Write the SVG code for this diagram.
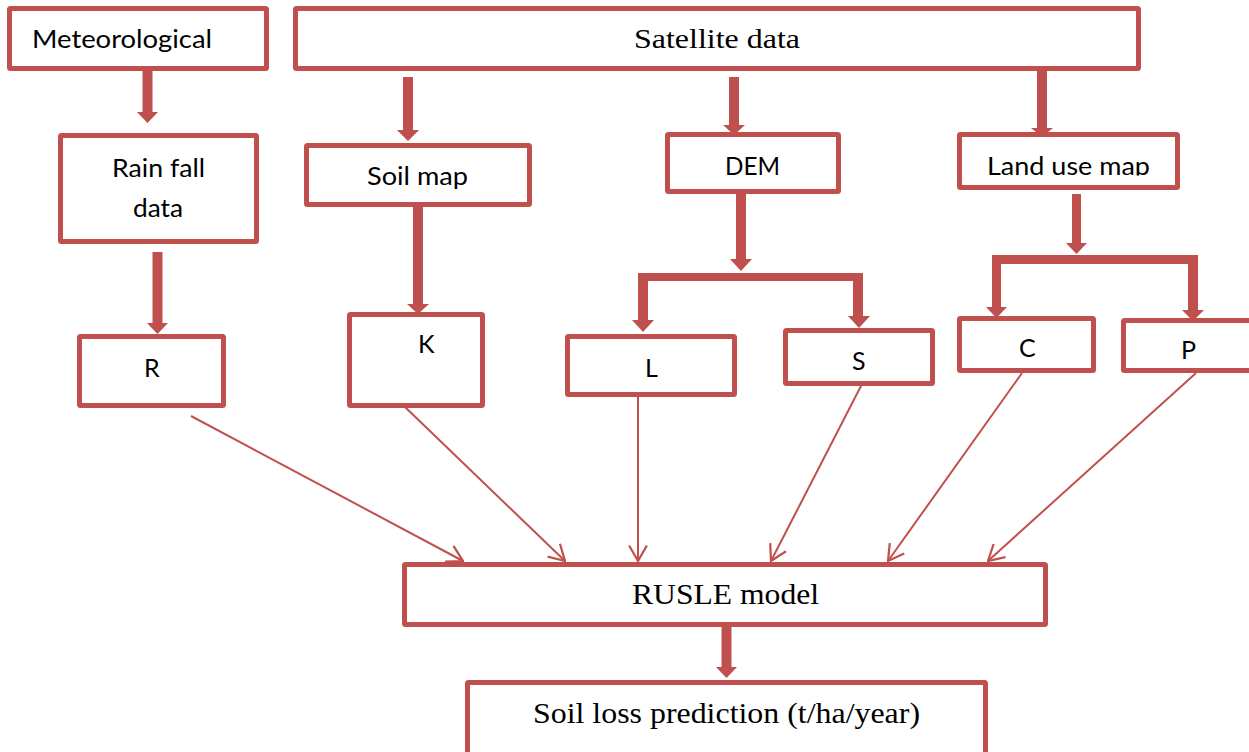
<svg xmlns="http://www.w3.org/2000/svg" width="1249" height="752" viewBox="0 0 1249 752">
<style>
.box{fill:#fff;stroke:#C0504D;stroke-width:5}
.thick{fill:#C0504D;stroke:none}
.thin{stroke:#C0504D;stroke-width:2;fill:none}
.sans{font-family:Lato,"Open Sans","Liberation Sans",sans-serif;font-size:25px;fill:#000}
.serif{font-family:"Liberation Serif","Times New Roman",serif;fill:#000}
</style>
<defs>
<marker id="open" markerUnits="userSpaceOnUse" markerWidth="18" markerHeight="20" viewBox="0 0 16 18" refX="15" refY="9" orient="auto">
<path d="M1,1 L15,9 L1,17" fill="none" stroke="#C0504D" stroke-width="2"/>
</marker>
<clipPath id="clipLand"><rect x="960" y="135" width="216" height="40.5"/></clipPath>
</defs>
<rect x="0" y="0" width="1249" height="752" fill="#fff"/>

<g id="connectors">
<!-- thin lines to RUSLE -->
<line class="thin" x1="191" y1="416" x2="463" y2="561" marker-end="url(#open)"/>
<line class="thin" x1="405" y1="407" x2="565" y2="561" marker-end="url(#open)"/>
<line class="thin" x1="638" y1="397" x2="638" y2="561" marker-end="url(#open)"/>
<line class="thin" x1="862" y1="384" x2="771" y2="561" marker-end="url(#open)"/>
<line class="thin" x1="1022" y1="373" x2="888" y2="561" marker-end="url(#open)"/>
<line class="thin" x1="1196" y1="373" x2="988" y2="561" marker-end="url(#open)"/>
</g>

<g id="node-meteorological">
<rect class="box" x="9.5" y="8.5" width="257" height="60" rx="1"/>
<text class="sans" x="32" y="48" textLength="180" lengthAdjust="spacingAndGlyphs">Meteorological</text>
</g>
<g id="node-satellite">
<rect class="box" x="295.5" y="8.5" width="843" height="60" rx="1"/>
<text class="serif" x="634" y="48" font-size="28" textLength="166" lengthAdjust="spacingAndGlyphs">Satellite data</text>
</g>
<g id="node-rainfall">
<rect class="box" x="60.5" y="135.5" width="196" height="106" rx="1"/>
<text class="sans" x="112" y="177" textLength="93" lengthAdjust="spacingAndGlyphs">Rain fall</text>
<text class="sans" x="133" y="217" textLength="50" lengthAdjust="spacingAndGlyphs">data</text>
</g>
<g id="node-soilmap">
<rect class="box" x="306.5" y="145.5" width="223" height="59" rx="1"/>
<text class="sans" x="367" y="185" textLength="101" lengthAdjust="spacingAndGlyphs">Soil map</text>
</g>
<g id="node-dem">
<rect class="box" x="667.5" y="134.5" width="171" height="57" rx="1"/>
<text class="sans" x="725" y="175" textLength="55" lengthAdjust="spacingAndGlyphs">DEM</text>
</g>
<g id="node-landuse">
<rect class="box" x="959.5" y="134.5" width="218" height="53" rx="1"/>
<text class="sans" x="987" y="175" textLength="163" lengthAdjust="spacingAndGlyphs" clip-path="url(#clipLand)">Land use map</text>
</g>
<g id="node-R">
<rect class="box" x="79.5" y="336.5" width="144" height="69" rx="1"/>
<text class="sans" x="144" y="377">R</text>
</g>
<g id="node-K">
<rect class="box" x="349.5" y="314.5" width="133" height="91" rx="1"/>
<text class="sans" x="418" y="353">K</text>
</g>
<g id="node-L">
<rect class="box" x="567.5" y="336.5" width="167" height="58" rx="1"/>
<text class="sans" x="645" y="377">L</text>
</g>
<g id="node-S">
<rect class="box" x="785.5" y="330.5" width="147" height="53" rx="1"/>
<text class="sans" x="852" y="370">S</text>
</g>
<g id="node-C">
<rect class="box" x="959.5" y="318.5" width="134" height="52" rx="1"/>
<text class="sans" x="1019" y="357">C</text>
</g>
<g id="node-P">
<rect class="box" x="1123.5" y="320.5" width="140" height="50" rx="1"/>
<text class="sans" x="1181" y="359">P</text>
</g>
<g id="node-rusle">
<rect class="box" x="404.5" y="564.5" width="641" height="60" rx="1"/>
<text class="serif" x="632" y="604" font-size="30" textLength="187" lengthAdjust="spacingAndGlyphs">RUSLE model</text>
</g>
<g id="node-soilloss">
<rect class="box" x="467.5" y="682.5" width="518" height="100" rx="1"/>
<text class="serif" x="533" y="723" font-size="29" textLength="387" lengthAdjust="spacingAndGlyphs">Soil loss prediction (t/ha/year)</text>
</g>

<g id="block-arrows">
<!-- Meteorological -> Rain fall -->
<polygon class="thick" points="142.5,71 152.5,71 152.5,112 158,112 147.5,123 137,112 142.5,112"/>
<!-- Satellite -> Soil map -->
<polygon class="thick" points="403,77 413,77 413,130 419,130 408,141 397,130 403,130"/>
<!-- Soil map -> K -->
<polygon class="thick" points="413,207 423,207 423,304 429,304 418,314 407,304 413,304"/>
<!-- Rain fall -> R -->
<polygon class="thick" points="152.5,252 162.5,252 162.5,323 168,323 157.5,334 147,323 152.5,323"/>
<!-- Satellite -> DEM -->
<polygon class="thick" points="729,77 739,77 739,125 745,125 734,135 723,125 729,125"/>
<!-- DEM -> split -->
<polygon class="thick" points="736,194 746,194 746,259 752,259 741,271 730,259 736,259"/>
<!-- DEM split bar -->
<polygon class="thick" points="638,273 863,273 863,316 870,316 859,328 848,316 853,316 853,281 648,281 648,320 654,320 643,332 632,320 638,320"/>
<!-- Satellite -> Land use -->
<polygon class="thick" points="1037,71 1047,71 1047,128 1053,128 1042,137 1031,128 1037,128"/>
<!-- Land use -> split -->
<polygon class="thick" points="1072,194 1081,194 1081,243 1087,243 1076.5,254 1066,243 1072,243"/>
<!-- Land use split bar -->
<polygon class="thick" points="992,255 1198,255 1198,310 1204,310 1193,321 1182,310 1188,310 1188,264 1001,264 1001,307 1007,307 996.5,318 986,307 992,307"/>
<!-- RUSLE -> Soil loss -->
<polygon class="thick" points="721.5,627 731.5,627 731.5,667 737,667 726.5,678 716,667 721.5,667"/>
</g>
</svg>
